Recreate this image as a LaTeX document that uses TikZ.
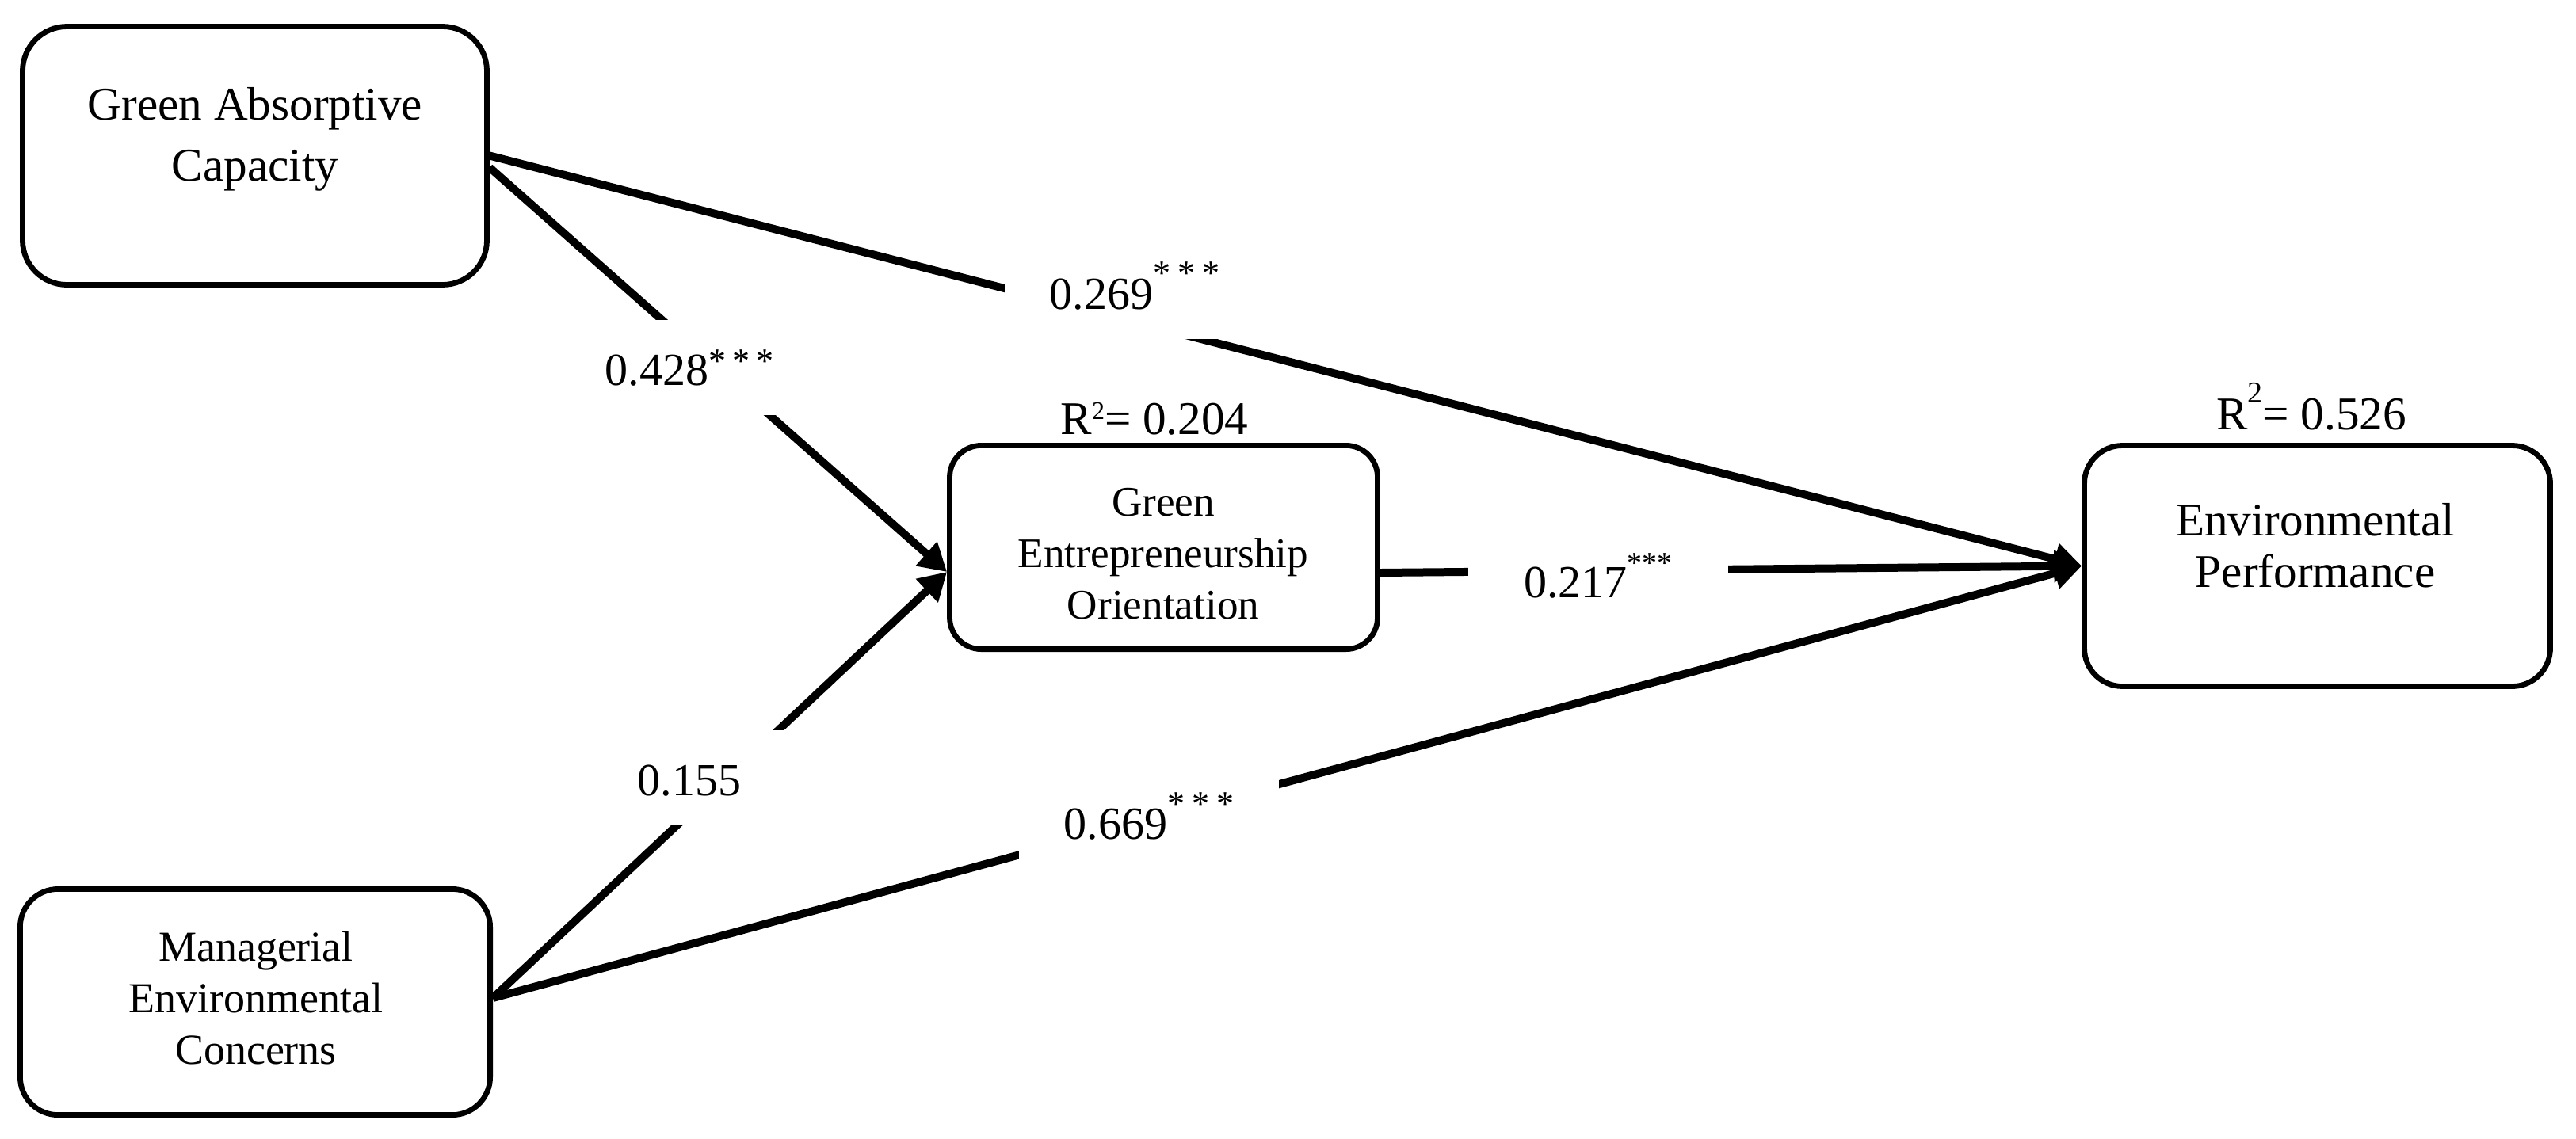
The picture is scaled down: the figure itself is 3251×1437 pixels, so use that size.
\documentclass[tikz,border=0pt]{standalone}
\usepackage{fontspec}
\setmainfont{Liberation Serif}
\usetikzlibrary{arrows.meta}
\newcommand\cstars[3]{\raisebox{#1}{\fontsize{#3}{#3}\selectfont *\hspace{#2}*\hspace{#2}*}}
\newcommand\rsqtwo[2]{\raisebox{#1}{\fontsize{#2}{#2}\selectfont 2}}
\begin{document}
\begin{tikzpicture}[x=0.25pt,y=-0.25pt,
  box/.style={draw, line width=1.7pt, rounded corners=12pt, inner sep=0pt},
  boxtext/.style={align=center, inner sep=0pt},
  conn/.style={line width=2.5pt, -{Triangle[length=8.7pt,width=9.7pt]}},
  coef/.style={fill=white, inner sep=0pt, anchor=base, minimum width=82pt,
    minimum height=30pt, text height=11pt, text depth=0pt,
    font=\fontsize{14.5}{17}\selectfont},
  rsq/.style={font=\fontsize{14.8}{17}\selectfont, anchor=base, inner sep=0pt}]
\useasboundingbox (0,0) rectangle (3251,1437);

% boxes
\node[box, rounded corners=14pt, minimum width=146.5pt, minimum height=81.5pt] (gac) at (321.5,196.5) {};
\node[box, rounded corners=10pt, minimum width=135pt, minimum height=64.3pt] (geo) at (1468.5,691) {};
\node[box, minimum width=147pt, minimum height=76pt] (ep) at (2924.5,714.5) {};
\node[box, minimum width=148.3pt, minimum height=71.3pt] (mec) at (322,1265) {};

% box texts
\node[boxtext, font=\fontsize{14.8}{19.25}\selectfont] (gact) at (322,176) {Green Absorptive\\Capacity};
\node[boxtext, font=\fontsize{13.3}{16.25}\selectfont] (geot) at (1468,699) {Green\\Entrepreneurship\\Orientation};
\node[boxtext, font=\fontsize{14.8}{16.25}\selectfont] (ept) at (2922,688.5) {Environmental\\Performance};
\node[boxtext, font=\fontsize{13.5}{16.25}\selectfont] (mect) at (323,1260) {Managerial\\Environmental\\Concerns};

% connector end points
\path (gac.east) ++(0,15) coordinate (gacb);
\path (geo.west) ++(0,31) coordinate (geoin);
\path (geo.east) ++(0,32) coordinate (geoout);
\path (mec.east) ++(0,-5) coordinate (mecout);

% connectors
\draw[conn] (gacb) -- (geoin);
\draw[conn] (mecout) -- (geoin);
\draw[conn] (gac.east) -- (ep.west);
\draw[conn] (geoout) -- (ep.west);
\draw[conn] (mecout) -- (ep.west);

% coefficients
\node[coef] (c428) at (870,486) {0.428\cstars{3.8pt}{2pt}{11}};
\node[coef] (c269) at (1432,390) {0.269\cstars{7.6pt}{2.3pt}{11}};
\node[coef] (c217) at (2017,754) {0.217\cstars{7.6pt}{0pt}{9.5}};
\node[coef] (c155) at (870,1004) {0.155};
\node[coef] (c669) at (1450,1059) {0.669\cstars{7.3pt}{2.3pt}{11}};

% R squared
\node[rsq] (r204) at (1457,548) {R\rsqtwo{4.6pt}{8}= 0.204};
\node[rsq] (r526) at (2917,542) {R\rsqtwo{8.5pt}{9.5}= 0.526};
\end{tikzpicture}
\end{document}
